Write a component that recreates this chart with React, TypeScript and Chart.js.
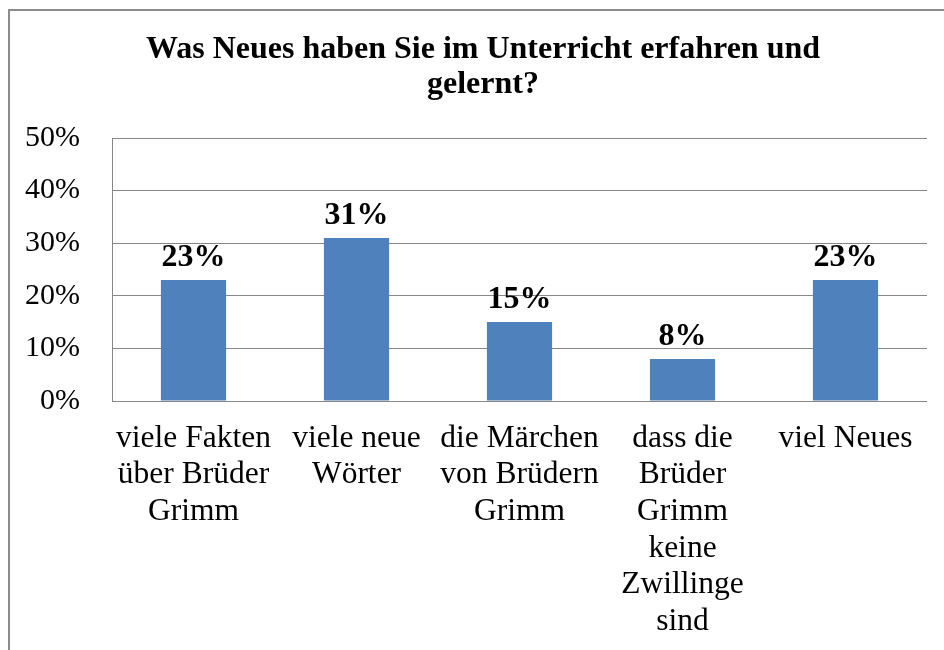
import React, { useEffect, useRef } from "react";
import { Chart, registerables } from "chart.js";

Chart.register(...registerables);

const titleLines = ["Was Neues haben Sie im Unterricht erfahren und", "gelernt?"];
const categories: string[][] = [
  ["viele Fakten", "über Brüder", "Grimm"],
  ["viele neue", "Wörter"],
  ["die Märchen", "von Brüdern", "Grimm"],
  ["dass die", "Brüder", "Grimm", "keine", "Zwillinge", "sind"],
  ["viel Neues"],
];
const values = [23, 31, 15, 8, 23];
const dataLabels = ["23%", "31%", "15%", "8%", "23%"];
const yMin = 0;
const yMax = 50;
const yStep = 10;

const FONT = "'Liberation Serif', 'Times New Roman', serif";
const GRID = "#878787";
const BAR = "#4F81BD";

const W = 936;
const H = 642;
const CW = 978;
const CL = -14;

const valueLabelPlugin = {
  id: "valueLabels",
  afterDatasetsDraw(chart: any) {
    const ctx = chart.ctx;
    const meta = chart.getDatasetMeta(0);
    ctx.save();
    ctx.font = `bold 32px ${FONT}`;
    ctx.fillStyle = "#000";
    ctx.textAlign = "center";
    ctx.textBaseline = "alphabetic";
    meta.data.forEach((bar: any, i: number) => {
      ctx.fillText(dataLabels[i], bar.x, bar.y - 14);
    });
    ctx.restore();
  },
};

export default function App() {
  const ref = useRef<HTMLCanvasElement | null>(null);
  useEffect(() => {
    if (!ref.current) return;
    const chart = new Chart(ref.current, {
      type: "bar",
      data: {
        labels: categories,
        datasets: [
          {
            data: values,
            backgroundColor: BAR,
            borderWidth: 0,
            barPercentage: 0.4,
            categoryPercentage: 1,
          },
        ],
      },
      options: {
        responsive: false,
        animation: false,
        devicePixelRatio: 1,
        layout: { padding: { left: 0, right: 0, top: 0, bottom: 0 } },
        plugins: {
          legend: { display: false },
          tooltip: { enabled: false },
          title: {
            display: true,
            text: titleLines,
            color: "#000",
            font: { family: FONT, size: 32, weight: "bold", lineHeight: 1.094 },
            padding: { top: 24, bottom: 36 },
          },
        },
        scales: {
          x: {
            grid: { display: false, drawTicks: false },
            border: { display: false },
            ticks: {
              color: "#000",
              font: { family: FONT, size: 31.5, lineHeight: 1.165 },
              padding: 19,
              autoSkip: false,
              maxRotation: 0,
              minRotation: 0,
            },
            afterFit: (s: any) => {
              s.height = H - 393;
            },
          },
          y: {
            min: yMin,
            max: yMax,
            grid: { color: GRID, lineWidth: 1, drawTicks: false },
            border: { display: true, color: GRID, width: 1 },
            ticks: {
              stepSize: yStep,
              color: "#000",
              font: { family: FONT, size: 30 },
              padding: 32,
              callback: (v: any) => `${v}%`,
            },
            afterFit: (s: any) => {
              s.width = 118;
            },
          },
          yRightSpace: {
            position: "right",
            min: yMin,
            max: yMax,
            display: true,
            grid: { display: false, drawTicks: false },
            border: { display: false },
            ticks: { display: false },
            afterFit: (s: any) => {
              s.width = 45;
            },
          },
        },
      },
      plugins: [valueLabelPlugin],
    });
    return () => chart.destroy();
  }, []);

  return (
    <div style={{ position: "fixed", left: 8, top: 8, width: W, height: H, overflow: "hidden" }}>
      <div
        style={{
          position: "absolute",
          left: 0,
          top: 1,
          width: W + 10,
          height: H + 10,
          borderLeft: "2px solid #8c8c8c",
          borderTop: "2px solid #8c8c8c",
        }}
      />
      <canvas
        ref={ref}
        width={CW}
        height={H}
        style={{ position: "absolute", left: CL, top: 0, width: CW, height: H }}
      />
    </div>
  );
}
